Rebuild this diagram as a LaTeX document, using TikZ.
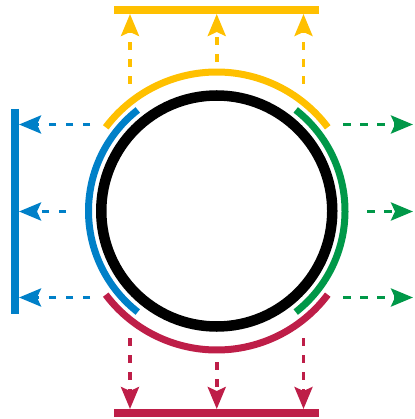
\documentclass[tikz,border=0pt]{standalone}
\usetikzlibrary{arrows.meta}
\definecolor{cyel}{HTML}{FFC000}
\definecolor{cblu}{HTML}{0080C8}
\definecolor{cgrn}{HTML}{009848}
\definecolor{cred}{HTML}{BE1E48}
\begin{document}
\begin{tikzpicture}[x=1pt,y=-1pt,
  ring/.style={line width=7pt},
  bar/.style={line width=8pt},
  flow/.style={line width=3.5pt, dash pattern=on 7.5pt off 9.5pt,
    -{Stealth[length=22pt,width=18pt,inset=4pt]}}]
\useasboundingbox (0,0) rectangle (414,419);
\coordinate (c) at (216.75,211);
% core circle
\draw[line width=10.5pt] (c) circle[radius=115.5];
% arcs
\draw[ring,cyel] (c) ++(-37:139) arc[start angle=-37, end angle=-143, radius=139];
\draw[ring,cred] (c) ++(37:139) arc[start angle=37, end angle=143, radius=139];
\draw[ring,cblu] (c) ++(-128:128.25) arc[start angle=-128, end angle=-232, radius=128.25];
\draw[ring,cgrn] (c) ++(-52:128.25) arc[start angle=-52, end angle=52, radius=128.25];
% bars
\coordinate (yb1) at (114,10); \coordinate (yb2) at (319,10);
\coordinate (rb1) at (114,413); \coordinate (rb2) at (319,413);
\coordinate (bb1) at (15,109); \coordinate (bb2) at (15,314);
\draw[bar,cyel] (yb1) -- (yb2);
\draw[bar,cred] (rb1) -- (rb2);
\draw[bar,cblu] (bb1) -- (bb2);
% yellow arrows
\coordinate (ys1) at (130,84);     \coordinate (ye1) at (130,14);
\coordinate (ys2) at (216.75,62);  \coordinate (ye2) at (216.75,14);
\coordinate (ys3) at (303.5,84);   \coordinate (ye3) at (303.5,14);
\draw[flow,cyel] (ys1) -- (ye1);
\draw[flow,cyel] (ys2) -- (ye2);
\draw[flow,cyel] (ys3) -- (ye3);
% red arrows
\coordinate (rs1) at (130,338);    \coordinate (re1) at (130,409);
\coordinate (rs2) at (216.75,362); \coordinate (re2) at (216.75,409);
\coordinate (rs3) at (303.5,338);  \coordinate (re3) at (303.5,409);
\draw[flow,cred] (rs1) -- (re1);
\draw[flow,cred] (rs2) -- (re2);
\draw[flow,cred] (rs3) -- (re3);
% blue arrows
\coordinate (bs1) at (90,124.5);   \coordinate (be1) at (19,124.5);
\coordinate (bs2) at (66,211.5);   \coordinate (be2) at (19,211.5);
\coordinate (bs3) at (90,297.5);   \coordinate (be3) at (19,297.5);
\draw[flow,cblu] (bs1) -- (be1);
\draw[flow,cblu] (bs2) -- (be2);
\draw[flow,cblu] (bs3) -- (be3);
% green arrows
\coordinate (gs1) at (343,124.5);  \coordinate (ge1) at (413,124.5);
\coordinate (gs2) at (367,211.5);  \coordinate (ge2) at (413,211.5);
\coordinate (gs3) at (343,297.5);  \coordinate (ge3) at (413,297.5);
\draw[flow,cgrn] (gs1) -- (ge1);
\draw[flow,cgrn] (gs2) -- (ge2);
\draw[flow,cgrn] (gs3) -- (ge3);
\end{tikzpicture}
\end{document}
